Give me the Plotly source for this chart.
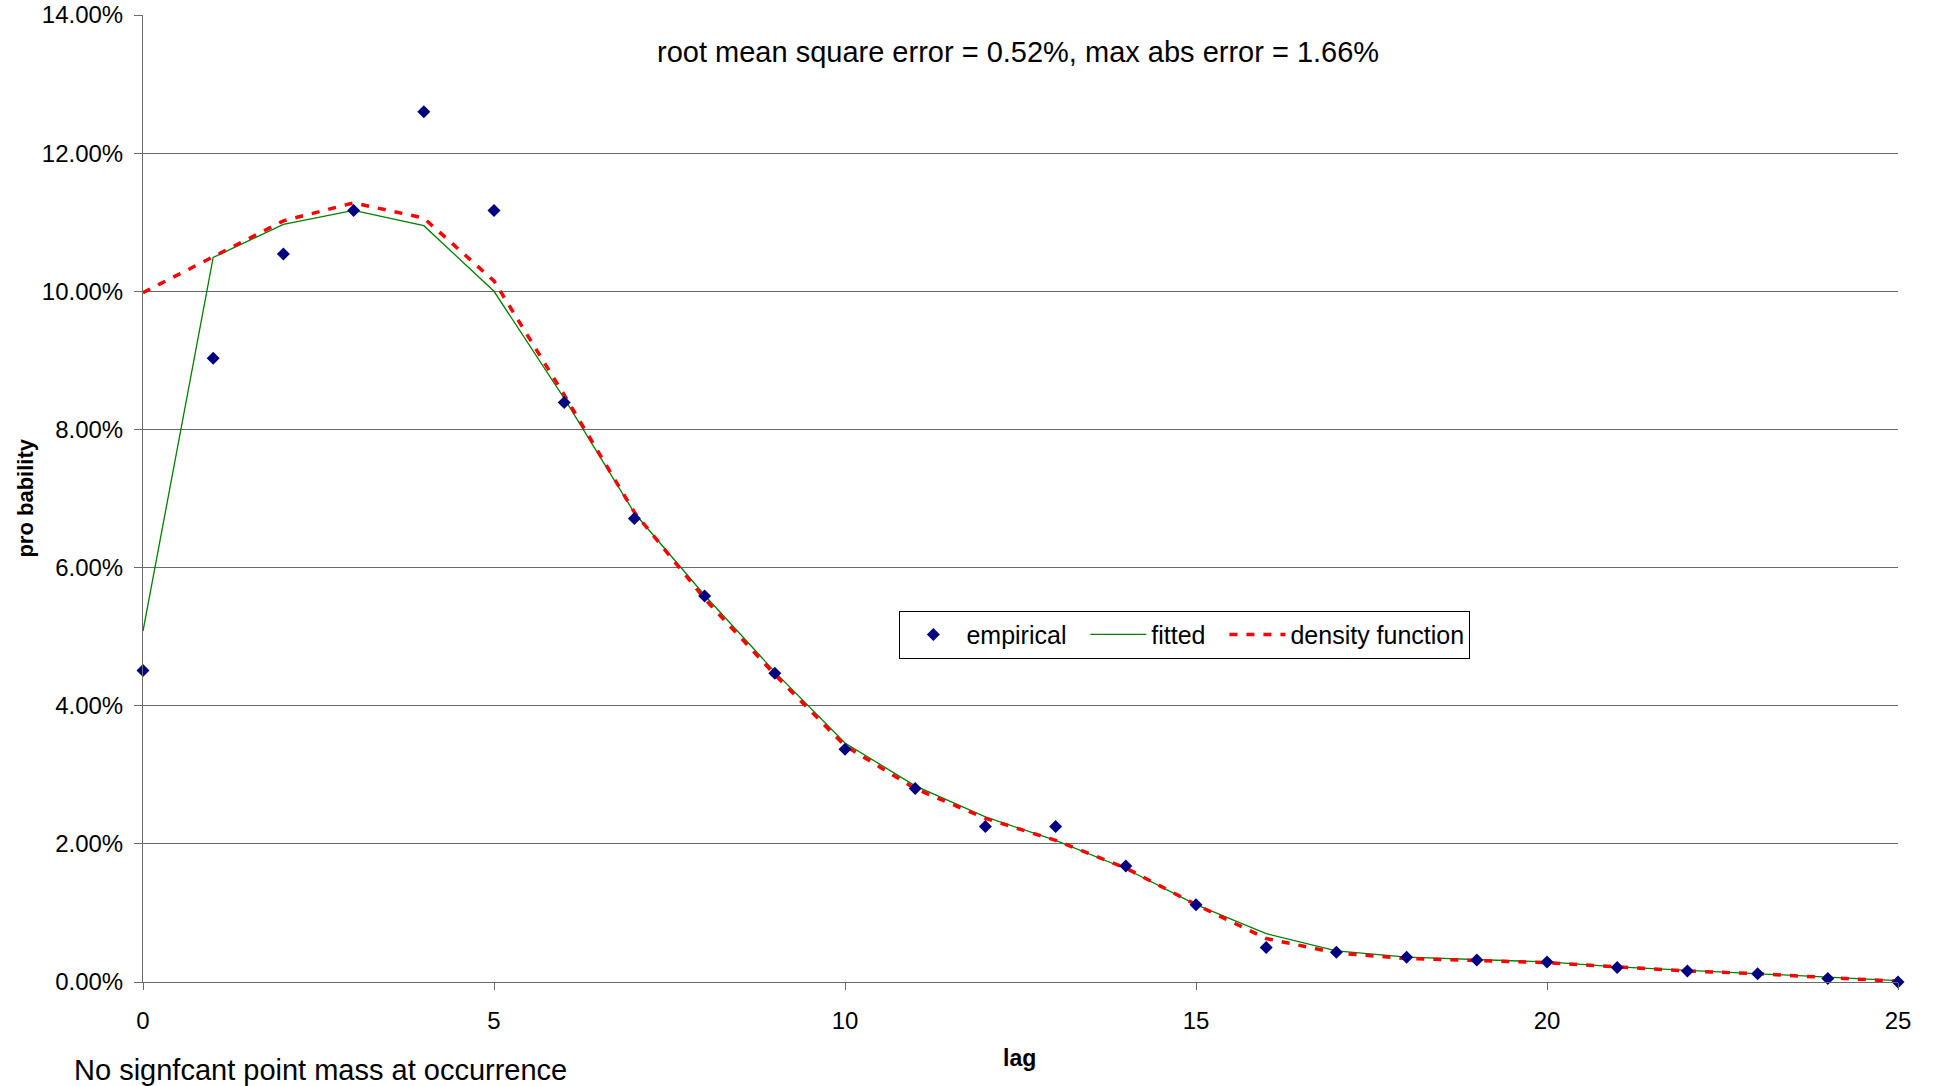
import plotly.graph_objects as go

lag = list(range(26))
empirical = [4.51, 9.03, 10.54, 11.17, 12.60, 11.17, 8.39, 6.71, 5.59, 4.47, 3.37, 2.80, 2.25,
             2.25, 1.68, 1.12, 0.50, 0.43, 0.36, 0.32, 0.29, 0.21, 0.16, 0.12, 0.05, 0.00]
fitted = [5.08, 10.49, 10.97, 11.17, 10.95, 10.00, 8.45, 6.79, 5.60, 4.49, 3.46, 2.84, 2.39,
          2.05, 1.64, 1.12, 0.70, 0.45, 0.36, 0.32, 0.29, 0.22, 0.17, 0.12, 0.07, 0.02]
density = [9.98, 10.50, 11.02, 11.28, 11.06, 10.15, 8.50, 6.80, 5.55, 4.45, 3.42, 2.80, 2.37,
           2.05, 1.65, 1.12, 0.63, 0.42, 0.34, 0.31, 0.28, 0.22, 0.16, 0.12, 0.06, 0.01]

x_ticks = [0, 5, 10, 15, 20, 25]
y_ticks = [0, 0.02, 0.04, 0.06, 0.08, 0.10, 0.12, 0.14]

title_text = "root mean square error = 0.52%, max abs error = 1.66%"
note_text = "No signfcant point mass at occurrence"

FONT = "Liberation Sans, Arial, sans-serif"
GRID = "#6a6a6a"
PAD = "\u00a0\u00a0"

fig = go.Figure()
fig.add_trace(go.Scatter(
    x=lag, y=[v / 100 for v in fitted], mode="lines", name="fitted" + PAD,
    line=dict(color="rgb(0,128,0)", width=1.3), legendrank=2, cliponaxis=False))
fig.add_trace(go.Scatter(
    x=lag, y=[v / 100 for v in density], mode="lines", name="density function",
    line=dict(color="rgb(255,0,0)", width=3.5, dash="8px,9px"), legendrank=3, cliponaxis=False))
fig.add_trace(go.Scatter(
    x=lag, y=[v / 100 for v in empirical], mode="markers", name="empirical" + PAD,
    marker=dict(symbol="diamond", size=10, color="rgb(0,0,128)", line=dict(width=0)),
    legendrank=1, cliponaxis=False))

fig.update_layout(
    width=1933, height=1086,
    margin=dict(l=143, r=35, t=15, b=104, autoexpand=False),
    paper_bgcolor="white", plot_bgcolor="white",
    font=dict(family=FONT, size=24, color="black"),
    showlegend=True,
    legend=dict(
        orientation="h", x=0.431, y=0.384, xanchor="left", yanchor="top",
        bordercolor="black", borderwidth=1, bgcolor="white",
        font=dict(family=FONT, size=25, color="black"),
        itemwidth=56,
    ),
    xaxis=dict(
        range=[0, 25], tickvals=x_ticks, showgrid=False, zeroline=False,
        showline=True, linecolor=GRID, linewidth=1, automargin=False,
        ticks="outside", ticklen=7, tickcolor=GRID, ticklabelstandoff=10,
        tickfont=dict(family=FONT, size=24),
    ),
    yaxis=dict(
        range=[0, 0.14], tickvals=y_ticks, tickformat=".2%",
        showgrid=True, gridcolor=GRID, gridwidth=1, zeroline=False,
        showline=True, linecolor=GRID, linewidth=1, automargin=False,
        ticks="outside", ticklen=8, tickcolor=GRID, ticklabelstandoff=6,
        tickfont=dict(family=FONT, size=24),
    ),
    annotations=[
        dict(text=title_text, xref="paper", yref="paper", x=0.4986, y=0.9617,
             xanchor="center", yanchor="middle", showarrow=False,
             font=dict(family=FONT, size=29)),
        dict(text=note_text, xref="paper", yref="paper", x=-0.0405, y=-0.091,
             xanchor="left", yanchor="middle", showarrow=False,
             font=dict(family=FONT, size=29)),
        dict(text="<b>lag</b>", xref="paper", yref="paper", x=0.4997, y=-0.0786,
             xanchor="center", yanchor="middle", showarrow=False,
             font=dict(family=FONT, size=23)),
        dict(text="<b>pro bability</b>", xref="paper", yref="paper", x=-0.0672, y=0.500,
             xanchor="center", yanchor="middle", showarrow=False, textangle=-90,
             font=dict(family=FONT, size=22)),
    ],
)

fig.write_html("out.html")
